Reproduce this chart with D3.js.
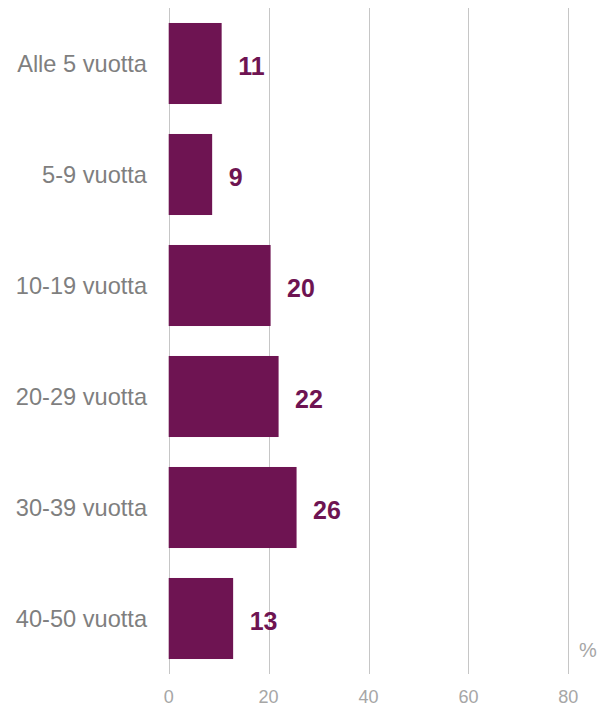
<!DOCTYPE html>
<html>
<head>
<meta charset="utf-8">
<script src="https://cdn.jsdelivr.net/npm/d3@7"></script>
<style>
  body { margin: 0; background: #fff; }
  text { font-family: "Liberation Sans", Arial, sans-serif; }
</style>
</head>
<body>
<script>
// data
var categories = ["Alle 5 vuotta", "5-9 vuotta", "10-19 vuotta", "20-29 vuotta", "30-39 vuotta", "40-50 vuotta"];
var values     = [10.6, 8.7, 20.4, 22.0, 25.6, 12.9];
var labels     = ["11", "9", "20", "22", "26", "13"];
var ticks      = [0, 20, 40, 60, 80];

var width = 598, height = 706;
var barColor = "#6e1452";

var svg = d3.select("body")
            .append("svg")
            .attr("width",  width)
            .attr("height", height);

var x = d3.scaleLinear()
          .domain([0, 80])
          .range([168.7, 568.3]);

var y = d3.scaleBand()
          .domain(categories)
          .range([8, 674])
          .paddingInner(0.27)
          .paddingOuter(0.135);

// gridlines
svg.append("g")
   .selectAll("line")
   .data(ticks)
   .enter().append("line")
   .attr("x1", function(d){ return Math.round(x(d)) + 0.5; })
   .attr("x2", function(d){ return Math.round(x(d)) + 0.5; })
   .attr("y1", 8)
   .attr("y2", 674)
   .attr("stroke", "#c6c6c6")
   .attr("stroke-width", 1);

// tick labels
svg.append("g")
   .selectAll("text")
   .data(ticks)
   .enter().append("text")
   .attr("x", function(d){ return x(d); })
   .attr("y", 703)
   .attr("text-anchor", "middle")
   .attr("font-size", "18px")
   .attr("fill", "#a6a6a6")
   .text(function(d){ return d; });

svg.append("text")
   .attr("x", 579)
   .attr("y", 657)
   .attr("font-size", "20px")
   .attr("fill", "#a6a6a6")
   .text("%");

// bars
svg.append("g")
   .selectAll("rect")
   .data(values)
   .enter().append("rect")
   .attr("x", x(0))
   .attr("y", function(d, i){ return y(categories[i]); })
   .attr("width", function(d){ return x(d) - x(0); })
   .attr("height", y.bandwidth())
   .attr("fill", barColor);

// value labels
svg.append("g")
   .selectAll("text")
   .data(values)
   .enter().append("text")
   .attr("x", function(d){ return x(d) + 16.5; })
   .attr("y", function(d, i){ return y(categories[i]) + y.bandwidth() / 2; })
   .attr("dy", "0.45em")
   .attr("font-size", "25px")
   .attr("font-weight", "bold")
   .attr("fill", barColor)
   .text(function(d, i){ return labels[i]; });

// category labels
svg.append("g")
   .selectAll("text")
   .data(categories)
   .enter().append("text")
   .attr("x", 147)
   .attr("y", function(d){ return y(d) + y.bandwidth() / 2; })
   .attr("dy", "0.36em")
   .attr("text-anchor", "end")
   .attr("font-size", "23.6px")
   .attr("fill", "#7f7f7f")
   .text(function(d){ return d; });
</script>
</body>
</html>
